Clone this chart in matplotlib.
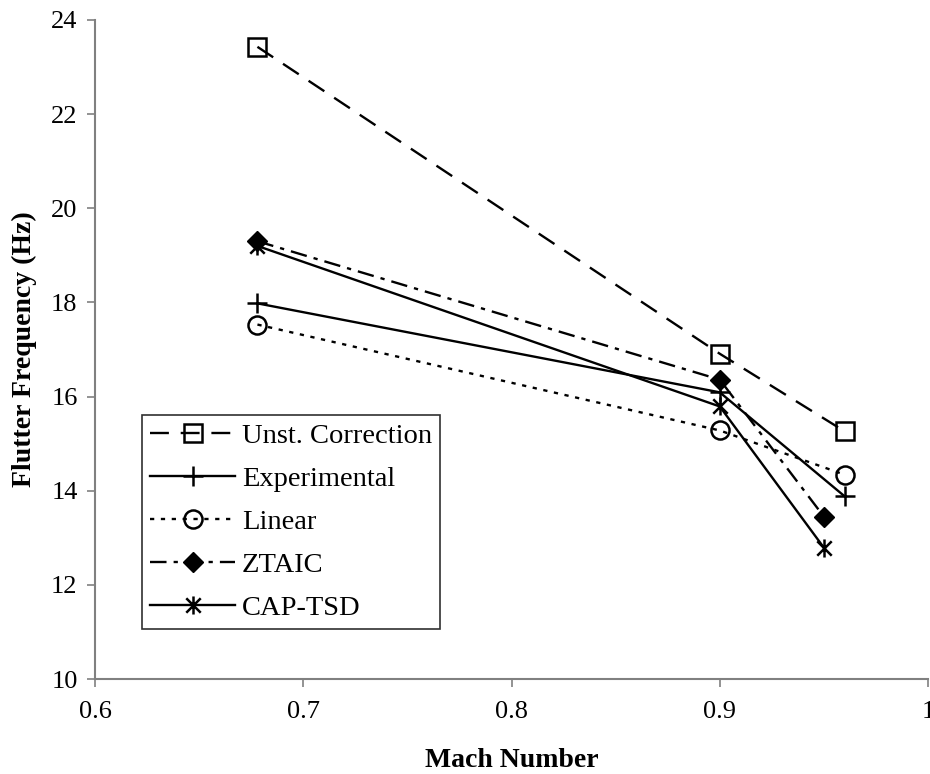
import numpy as np
import matplotlib.pyplot as plt
from matplotlib.path import Path

plt.rcParams['font.family'] = ['Liberation Serif', 'DejaVu Serif']

# Data
mach_unst = [0.678, 0.90, 0.96]
freq_unst = [23.43, 16.91, 15.26]

mach_exp = [0.678, 0.90, 0.96]
freq_exp = [17.98, 16.09, 13.88]

mach_lin = [0.678, 0.90, 0.96]
freq_lin = [17.53, 15.28, 14.34]

mach_ztaic = [0.678, 0.90, 0.95]
freq_ztaic = [19.30, 16.36, 13.45]

mach_cap = [0.678, 0.90, 0.95]
freq_cap = [19.20, 15.79, 12.79]

xticks = [0.6, 0.7, 0.8, 0.9, 1.0]
xtick_labels = ['0.6', '0.7', '0.8', '0.9', '1']
yticks = [10, 12, 14, 16, 18, 20, 22, 24]

# star marker: vertical bar plus an X
star = Path([(0, -1), (0, 1), (-0.8, -0.8), (0.8, 0.8), (-0.8, 0.8), (0.8, -0.8)],
            [Path.MOVETO, Path.LINETO, Path.MOVETO, Path.LINETO, Path.MOVETO, Path.LINETO])

fig = plt.figure(figsize=(9.3, 7.74), dpi=100)
ax = fig.add_axes([95 / 930, 1 - 679 / 774, 833 / 930, 659 / 774])

lw = 1.7
ax.plot(mach_unst, freq_unst, color='black', lw=lw, ls=(0, (8, 5)),
        marker='s', ms=13, mew=1.8, mfc='none', mec='black', label='Unst. Correction')
ax.plot(mach_exp, freq_exp, color='black', lw=lw, ls='-',
        marker='+', ms=14.5, mew=1.8, mec='black', label='Experimental')
ax.plot(mach_lin, freq_lin, color='black', lw=lw, ls=(0, (1.8, 2.8)),
        marker='o', ms=13, mew=1.8, mfc='none', mec='black', label='Linear')
ax.plot(mach_ztaic, freq_ztaic, color='black', lw=lw, ls=(0, (7, 3, 1.8, 3)),
        marker='D', ms=9.7, mfc='black', mec='black', label='ZTAIC')
ax.plot(mach_cap, freq_cap, color='black', lw=lw, ls='-',
        marker=star, ms=13, mew=1.8, mec='black', label='CAP-TSD')

ax.set_xlim(0.6, 1.0)
ax.set_ylim(10, 24)
ax.set_xticks(xticks)
ax.set_xticklabels(xtick_labels)
ax.set_yticks(yticks)

for s in ['top', 'right']:
    ax.spines[s].set_visible(False)
for s in ['left', 'bottom']:
    ax.spines[s].set_color('#808080')
    ax.spines[s].set_linewidth(1.5)
ax.tick_params(axis='both', direction='out', length=5.5, width=1.2, color='#808080',
               labelsize=19, labelcolor='black')
ax.tick_params(axis='y', pad=7)
ax.tick_params(axis='x', pad=10)

ax.set_xlabel('Mach Number', fontsize=20, fontweight='bold', labelpad=18)
ax.set_ylabel('Flutter Frequency (Hz)', fontsize=20, fontweight='bold', labelpad=10)

leg = ax.legend(loc='upper left', bbox_to_anchor=(47 / 833, 264 / 659), borderaxespad=0,
                fontsize=20.5, handlelength=3.0, handletextpad=0.22, borderpad=0.28,
                labelspacing=0.6, fancybox=False, framealpha=1, edgecolor='#303030')
leg.get_frame().set_linewidth(1.2)

fig.savefig('out.png', dpi=100)
